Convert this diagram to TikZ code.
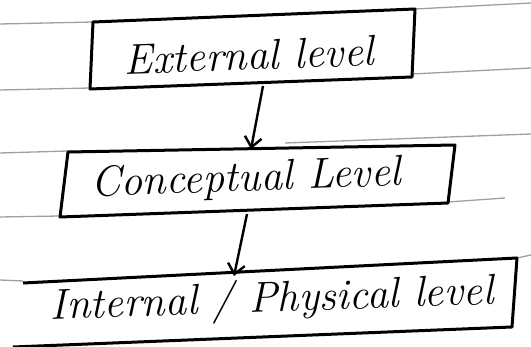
\documentclass[tikz,border=0pt]{standalone}
\usetikzlibrary{arrows.meta}
\begin{document}
\begin{tikzpicture}[x=1pt,y=-1pt,
  paper/.style={draw=gray!75,line width=1.3pt},
  boxline/.style={draw=black,line width=3pt,line join=round},
  lbl/.style={font=\fontsize{43}{48}\selectfont\itshape,inner sep=0pt,rotate=2},
  conn/.style={draw=black,line width=2.4pt,-{Straight Barb[length=10pt,width=17pt,line width=2.4pt]}}]
\useasboundingbox (0,0) rectangle (531,347);
% ruled paper lines
\draw[paper] (0,24) -- (93,22);
\draw[paper] (415,9) -- (531,3);
\draw[paper] (0,90) -- (90,88);
\draw[paper] (412,74) -- (531,68);
\draw[paper] (0,153) -- (68,151);
\draw[paper] (285,143) -- (531,134);
\draw[paper] (0,217) -- (60,216);
\draw[paper] (448,202) -- (505,198);
\draw[paper] (0,280) -- (23,281);
\draw[paper] (517,258) -- (531,255);
% boxes
\draw[boxline] (93,22) -- (415,9) -- (412,77) -- (90,89) -- cycle;
\draw[boxline] (68,152) -- (455,145) -- (448,203) -- (60,217) -- cycle;
\draw[boxline] (23,283) -- (517,258) -- (512,327) -- (13,347);
% labels
\node[lbl] (ext) at (249,55) {External level};
\node[lbl] (con) at (246,180) {Conceptual Level};
\node[lbl] (int) at (272,301) {Internal / Physical level};
% connectors
\coordinate (extb) at (263,86);
\coordinate (cont) at (251,149);
\coordinate (conb) at (247,214);
\coordinate (intt) at (234,276);
\draw[conn] (extb) -- (cont);
\draw[conn] (conb) -- (intt);
\end{tikzpicture}
\end{document}
